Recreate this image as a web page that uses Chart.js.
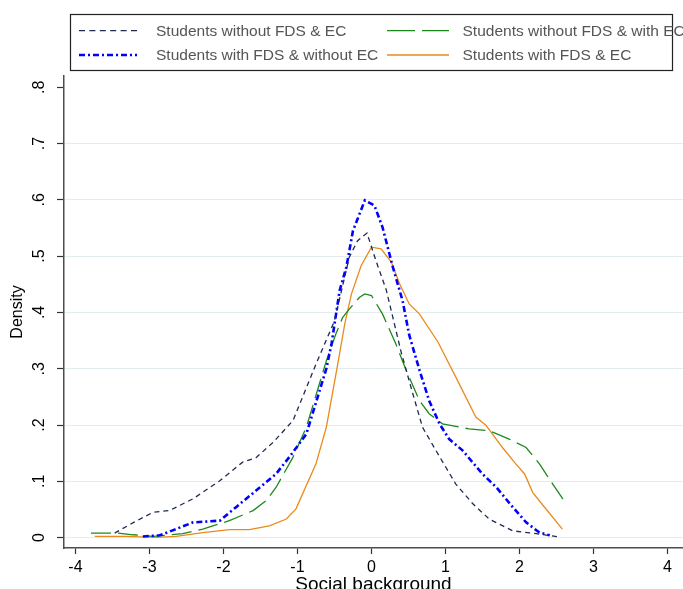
<!DOCTYPE html>
<html>
<head>
<meta charset="utf-8">
<script src="https://cdn.jsdelivr.net/npm/chart.js@4.4.1/dist/chart.umd.min.js"></script>
<style>
  html, body { margin: 0; padding: 0; background: #fff; }
  #c { display: block; }
</style>
</head>
<body>
<canvas id="c" width="683" height="589"></canvas>
<script>
// kernel density of social background, 4 groups of students

const xTicks = [-4, -3, -2, -1, 0, 1, 2, 3, 4];
const yTicks = [0, 0.1, 0.2, 0.3, 0.4, 0.5, 0.6, 0.7, 0.8];

const labels = [
  'Students without FDS & EC',
  'Students with FDS & without EC',
  'Students without FDS & with EC',
  'Students with FDS & EC',
];

// without FDS & EC
const noFdsNoEcX = [-3.47, -3.2, -2.95, -2.73, -2.41, -2.05, -1.74, -1.56, -1.33, -1.06, -0.75, -0.5, -0.3, -0.19, -0.06, 0.06, 0.2, 0.3, 0.4, 0.56, 0.69, 0.87, 1.14, 1.37, 1.59, 1.91, 2.23, 2.54];
const noFdsNoEcY = [0.008, 0.028, 0.045, 0.048, 0.069, 0.101, 0.134, 0.142, 0.169, 0.208, 0.308, 0.385, 0.498, 0.527, 0.541, 0.492, 0.44, 0.385, 0.33, 0.255, 0.196, 0.155, 0.095, 0.06, 0.033, 0.012, 0.007, 0.001];

// with FDS & without EC
const fdsNoEcX = [-3.09, -2.86, -2.41, -2.05, -1.83, -1.51, -1.29, -1.11, -0.88, -0.61, -0.54, -0.43, -0.34, -0.25, -0.09, 0.04, 0.15, 0.29, 0.42, 0.51, 0.65, 0.78, 0.92, 1.05, 1.23, 1.5, 1.69, 1.91, 2.09, 2.27, 2.41];
const fdsNoEcY = [0.002, 0.004, 0.027, 0.03, 0.054, 0.089, 0.113, 0.143, 0.184, 0.3, 0.344, 0.439, 0.48, 0.545, 0.599, 0.59, 0.551, 0.48, 0.421, 0.36, 0.297, 0.243, 0.202, 0.175, 0.155, 0.113, 0.089, 0.054, 0.027, 0.009, 0.004];

// without FDS & with EC
const noFdsEcX = [-3.79, -3.43, -3.22, -2.95, -2.55, -2.28, -1.92, -1.6, -1.42, -1.29, -1.06, -0.88, -0.61, -0.48, -0.39, -0.3, -0.16, -0.09, 0.0, 0.15, 0.33, 0.47, 0.65, 0.78, 0.96, 1.32, 1.59, 1.86, 2.09, 2.27, 2.45, 2.63];
const noFdsEcY = [0.008, 0.008, 0.005, 0.002, 0.007, 0.015, 0.03, 0.048, 0.066, 0.089, 0.143, 0.196, 0.314, 0.362, 0.391, 0.406, 0.427, 0.433, 0.43, 0.397, 0.344, 0.297, 0.243, 0.22, 0.202, 0.193, 0.19, 0.175, 0.16, 0.131, 0.095, 0.06];

// with FDS & EC
const fdsEcX = [-3.74, -3.31, -2.91, -2.64, -2.28, -1.92, -1.65, -1.38, -1.15, -1.02, -0.75, -0.61, -0.46, -0.36, -0.27, -0.14, 0.0, 0.13, 0.27, 0.38, 0.51, 0.65, 0.9, 1.14, 1.41, 1.55, 1.77, 1.95, 2.07, 2.18, 2.32, 2.58];
const fdsEcY = [0.002, 0.002, 0.0005, 0.002, 0.009, 0.014, 0.014, 0.021, 0.033, 0.051, 0.131, 0.196, 0.305, 0.38, 0.433, 0.483, 0.516, 0.513, 0.489, 0.451, 0.415, 0.397, 0.347, 0.285, 0.214, 0.199, 0.16, 0.131, 0.113, 0.08, 0.057, 0.015];

const FONT = "'Liberation Sans', Arial, Helvetica, sans-serif";

const S = [
  { color: '#1f2a52', width: 1.3, dash: [5, 4],       legendDash: [6, 4.4] },
  { color: '#0000ff', width: 2.6, dash: [6, 3, 2, 3], legendDash: [6, 3, 2, 3] },
  { color: '#1b8a1b', width: 1.3, dash: [20, 7],      legendDash: [28, 7] },
  { color: '#ea8a1c', width: 1.3, dash: [],           legendDash: [] },
];

const pts = (xs, ys) => xs.map((x, i) => ({ x, y: ys[i] }));
const series = [pts(noFdsNoEcX, noFdsNoEcY), pts(fdsNoEcX, fdsNoEcY), pts(noFdsEcX, noFdsEcY), pts(fdsEcX, fdsEcY)];

const datasets = series.map((data, i) => ({
  label: labels[i],
  data,
  showLine: true,
  borderColor: S[i].color,
  borderWidth: S[i].width,
  borderDash: S[i].dash,
  pointRadius: 0,
  tension: 0,
  fill: false,
}));

// y tick labels turned upright, plus the boxed legend on top
const stata = {
  id: 'stata',
  afterDraw(chart) {
    const ctx = chart.ctx;
    const y = chart.scales.y;
    ctx.save();
    ctx.fillStyle = '#000';
    ctx.font = `16px ${FONT}`;
    ctx.textAlign = 'center';
    ctx.textBaseline = 'middle';
    yTicks.forEach(v => {
      const py = y.getPixelForValue(v);
      ctx.save();
      ctx.translate(40, py);
      ctx.rotate(-Math.PI / 2);
      ctx.fillText(v === 0 ? '0' : v.toFixed(1).replace(/^0/, ''), 0, 0);
      ctx.restore();
    });

    // legend
    ctx.strokeStyle = '#222';
    ctx.lineWidth = 1.2;
    ctx.strokeRect(70.5, 14.5, 602, 56);
    const cols = [{ l: 79, r: 137, t: 156 }, { l: 387, r: 449, t: 462.5 }];
    const rows = [30.7, 55];
    ctx.font = `15.5px ${FONT}`;
    ctx.textAlign = 'left';
    chart.data.datasets.forEach((ds, i) => {
      const c = cols[Math.floor(i / 2)], ry = rows[i % 2];
      ctx.beginPath();
      ctx.strokeStyle = S[i].color;
      ctx.lineWidth = S[i].width;
      ctx.setLineDash(S[i].legendDash);
      ctx.moveTo(c.l, ry);
      ctx.lineTo(c.r, ry);
      ctx.stroke();
      ctx.setLineDash([]);
      ctx.fillStyle = '#555';
      ctx.fillText(ds.label, c.t, ry + 1);
    });
    ctx.restore();
  },
};

new Chart(document.getElementById('c'), {
  type: 'scatter',
  data: { datasets },
  plugins: [stata],
  options: {
    responsive: false,
    animation: false,
    layout: { padding: { top: 76, left: 0, right: 0, bottom: 0 } },
    plugins: { legend: { display: false }, tooltip: { enabled: false } },
    scales: {
      x: {
        type: 'linear',
        min: -4.155, max: 4.21,
        afterBuildTicks: s => { s.ticks = xTicks.map(v => ({ value: v })); },
        afterFit: s => { s.height = 41; },
        border: { color: '#4d4d4d', width: 1.5 },
        grid: { drawOnChartArea: false, tickLength: 6, tickColor: '#333', tickWidth: 1.2 },
        ticks: { color: '#000', font: { family: FONT, size: 16 }, padding: 4, maxRotation: 0 },
        title: {
          display: true, text: 'Social background', color: '#000',
          font: { family: FONT, size: 19 }, padding: { top: 0, bottom: -7 },
        },
      },
      y: {
        type: 'linear',
        min: -0.0185, max: 0.82,
        afterBuildTicks: s => { s.ticks = yTicks.map(v => ({ value: v })); },
        afterFit: s => { s.width = 64; },
        border: { color: '#4d4d4d', width: 1.5 },
        grid: {
          color: c => (c.tick && c.tick.value === 0.8 ? 'rgba(0,0,0,0)' : '#e3ecef'),
          lineWidth: 1, tickLength: 7, tickColor: '#333', tickWidth: 1.2,
        },
        ticks: { display: false },
        title: {
          display: true, text: 'Density', color: '#000',
          font: { family: FONT, size: 16 }, padding: { top: 8, bottom: 0 },
        },
      },
    },
  },
});
</script>
</body>
</html>
